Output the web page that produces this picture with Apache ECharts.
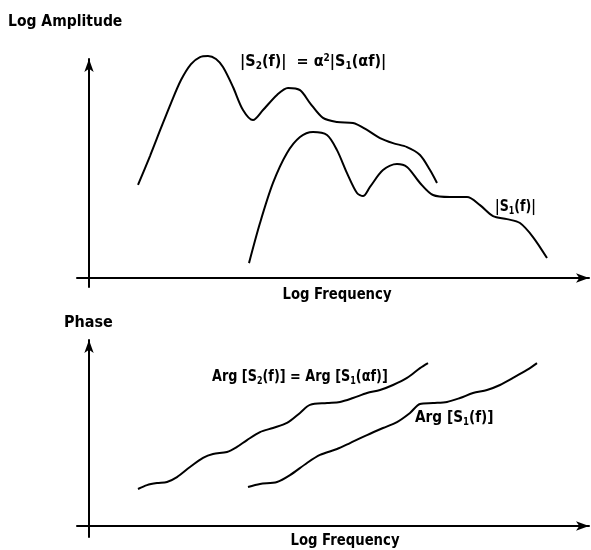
<!DOCTYPE html>
<html>
<head>
<meta charset="utf-8">
<script src="https://cdn.jsdelivr.net/npm/echarts@6/dist/echarts.min.js"></script>
<style>html,body{margin:0;padding:0;background:#fff}#c{width:591px;height:550px}</style>
</head>
<body>
<div id="c"></div>
<script>
// Top panel: log amplitude vs log frequency (arbitrary units, x 0..100, y 0..100)
var ampS2X = [9.8,12.2,14.4,16.4,18.4,20.4,22.2,23.8,25.4,26.8,28.8,30.8,32.8,34.8,37.6,39.8,42.2,44.2,46.8,49.6,52.8,55.6,58.2,60.8,63.6,66.2,68.2,69.6];
var ampS2Y = [42.5,55.7,68.5,79.9,90.4,97.7,100.9,101.4,100.0,96.3,87.2,76.7,72.1,76.7,83.6,86.8,85.8,79.9,73.1,71.2,70.8,67.6,63.9,61.6,59.8,56.2,49.3,43.4];
var ampS1X = [32.0,34.2,36.8,39.6,42.2,44.8,47.6,49.6,51.6,53.6,54.8,56.2,58.8,61.6,63.6,66.2,68.8,72.2,75.6,78.2,80.8,83.6,86.2,88.8,91.6];
var ampS1Y = [6.8,25.1,43.4,57.1,64.4,66.7,65.3,58.4,47.9,38.8,37.4,41.6,49.3,52.1,50.7,43.4,37.9,37.0,37.0,33.3,28.3,26.9,25.1,18.7,9.1];
// Bottom panel: phase vs log frequency
var argS2X = [9.8,11.6,13.6,15.6,17.6,20.2,22.8,24.8,27.6,29.6,31.6,34.2,36.8,39.6,42.2,44.2,47.6,50.2,52.8,55.6,58.2,60.8,63.6,66.2,67.8];
var argS2Y = [19.9,22.0,23.1,23.7,26.3,31.7,36.6,38.7,39.8,42.5,46.2,50.5,52.7,55.4,60.8,65.1,66.1,66.7,68.8,71.5,73.1,75.8,79.6,84.9,87.6];
var argS1X = [31.8,34.2,37.6,40.2,43.6,46.2,49.6,52.2,55.6,58.8,61.6,64.2,66.2,68.8,71.6,74.2,76.8,79.6,82.2,84.8,87.6,89.6];
var argS1Y = [21.0,22.6,23.7,27.4,33.9,38.2,41.4,44.6,48.9,52.7,55.9,60.8,65.6,66.1,66.7,68.8,71.5,73.1,75.8,79.6,83.9,87.6];

var texts = {
  yTop: 'Log Amplitude',
  xTop: 'Log Frequency',
  yBot: 'Phase',
  xBot: 'Log Frequency'
};

function pairs(xs, ys) { return xs.map(function (x, i) { return [x, ys[i]]; }); }

var FONT = '"Liberation Sans Narrow","DejaVu Sans Condensed",sans-serif';
var axisLineStyle = { color: '#000', width: 2 };

function xAxisDef(gi) {
  return {
    type: 'value', gridIndex: gi, min: -2.4, max: 100,
    axisLine: { onZero: true, symbol: ['none', 'arrow'], symbolSize: [7, 13], lineStyle: axisLineStyle },
    axisTick: { show: false }, axisLabel: { show: false }, splitLine: { show: false }
  };
}
function yAxisDef(gi, min) {
  return {
    type: 'value', gridIndex: gi, min: min, max: 100,
    axisLine: { onZero: true, symbol: ['none', 'arrow'], symbolSize: [7, 13], lineStyle: axisLineStyle },
    axisTick: { show: false }, axisLabel: { show: false }, splitLine: { show: false }
  };
}
function lineSeries(gi, data) {
  return {
    type: 'line', xAxisIndex: gi, yAxisIndex: gi, data: data, smooth: 0.3,
    showSymbol: false, clip: false, silent: true,
    lineStyle: { color: '#000', width: 2 }
  };
}
function txt(x, y, t, size, align, sx) {
  return {
    type: 'text', x: x, y: y, scaleX: sx || 1,
    style: { text: t, font: 'bold ' + size + 'px ' + FONT, fill: '#000', textAlign: align || 'left', textVerticalAlign: 'middle' }
  };
}
function rich(x, y, t, size, sx) {
  return {
    type: 'text', x: x, y: y, scaleX: sx || 1,
    style: {
      text: t, fill: '#000', textVerticalAlign: 'middle',
      font: 'bold ' + size + 'px ' + FONT,
      rich: {
        n: { fontFamily: FONT, fontWeight: 'bold', fontSize: size, fill: '#000' },
        sub: { fontFamily: FONT, fontWeight: 'bold', fontSize: Math.round(size * 0.6), fill: '#000', padding: [9, 0, 0, 0] },
        sup: { fontFamily: FONT, fontWeight: 'bold', fontSize: Math.round(size * 0.6), fill: '#000', padding: [0, 0, 8, 0] }
      }
    }
  };
}

var chart = echarts.init(document.getElementById('c'), null, { renderer: 'canvas' });
chart.setOption({
  animation: false,
  backgroundColor: '#fff',
  grid: [
    { left: 77, right: 2, top: 59, bottom: 263 },
    { left: 77, right: 2, top: 340, bottom: 13 }
  ],
  xAxis: [xAxisDef(0), xAxisDef(1)],
  yAxis: [yAxisDef(0, -4.1), yAxisDef(1, -5.9)],
  series: [
    lineSeries(0, pairs(ampS2X, ampS2Y)),
    lineSeries(0, pairs(ampS1X, ampS1Y)),
    lineSeries(1, pairs(argS2X, argS2Y)),
    lineSeries(1, pairs(argS1X, argS1Y))
  ],
  graphic: [
    txt(8, 22, texts.yTop, 16, 'left', 0.97),
    txt(337, 295, texts.xTop, 16, 'center', 0.92),
    txt(64, 323, texts.yBot, 16, 'left', 1),
    txt(345, 541, texts.xBot, 16, 'center', 0.92),
    rich(240, 62, '{n||S}{sub|2}{n|(f)|  = α}{sup|2}{n||S}{sub|1}{n|(αf)|}', 16, 1),
    rich(495, 207, '{n||S}{sub|1}{n|(f)|}', 16, 0.88),
    rich(212, 377, '{n|Arg [S}{sub|2}{n|(f)] = Arg [S}{sub|1}{n|(αf)]}', 16, 0.89),
    rich(415, 418, '{n|Arg [S}{sub|1}{n|(f)]}', 16, 0.95)
  ]
});
</script>
</body>
</html>
